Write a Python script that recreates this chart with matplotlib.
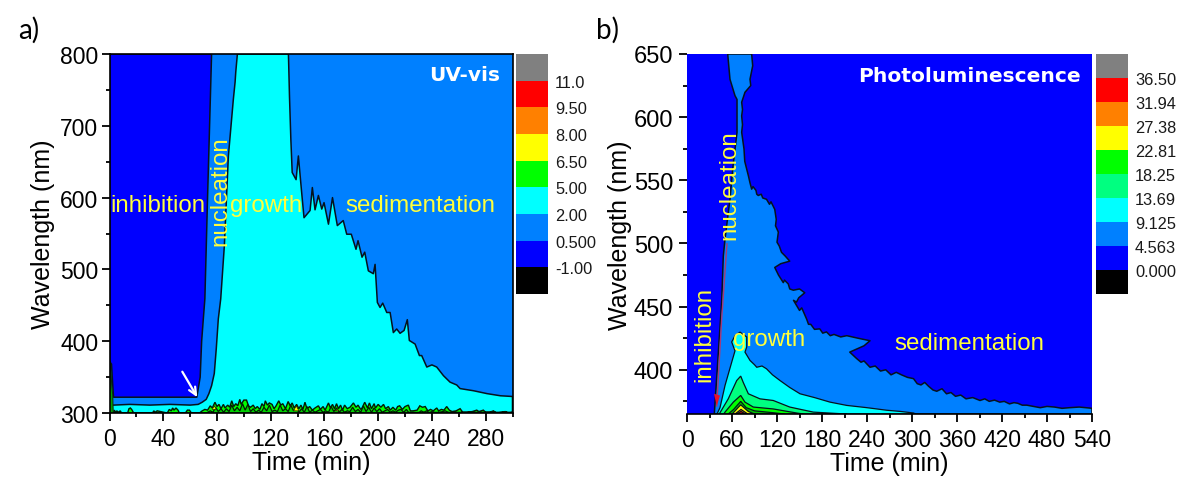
import numpy as np
import matplotlib
matplotlib.use("Agg")
import matplotlib.pyplot as plt
from matplotlib.colors import ListedColormap
from matplotlib.ticker import MultipleLocator

plt.rcParams['font.family'] = ['Liberation Sans', 'DejaVu Sans']

# ---------- panel a data (time in min, wavelength in nm) ----------
a_blue_t = [0, 76, 74.5, 73, 71, 69.8, 68.6, 67.5, 65, 40, 20, 3, 2.2, 1.5, 0]
a_blue_w = [800, 800, 700, 600, 459, 430, 400, 350, 322, 322, 322, 322, 345, 368, 372]

a_cyan_left_t = [0, 3, 15, 30, 45, 60, 66, 69, 72, 74, 76, 78, 79.5, 81, 82.8, 85.5, 88.5, 92.2, 93.5, 94, 95.2]
a_cyan_left_w = [311, 311, 312, 311, 312, 311, 312, 315, 319, 327, 338, 355, 390, 431, 459, 533, 658, 737, 761, 775, 800]
a_cyan_right_t = [133.2, 134, 135, 136, 138.9, 140.6, 141.8, 143, 144.8, 149.3, 151, 153, 155.5, 158, 159.7, 163, 166,
                  169.6, 174, 176.6, 180, 183.5, 185, 188, 190, 192.7, 196.4, 197.7, 199.4, 201.4, 203.4, 206.4, 208.9,
                  211.3, 213.8, 216.3, 219.3, 221.7, 223.2, 227.5, 230.7, 232.4, 236.2, 240, 243.6, 248.6, 253.5,
                  258.5, 261, 271, 281, 291, 300]
a_cyan_right_w = [800, 740, 681, 635, 625, 658, 633, 608, 572, 582, 614, 583, 603, 584, 593, 563, 600,
                  561, 568, 549, 549, 528, 540, 517, 524, 498, 494, 507, 454, 447, 453, 440, 440,
                  412, 417, 411, 415, 430, 401, 396, 380, 380, 364, 367, 364, 352, 343,
                  339, 334, 331, 327, 324, 323]

a_green_t = [0, 2.8, 3.6, 4.5, 5.5, 6.5, 8, 9, 13.5, 14.5, 15.5, 16.5, 18, 32, 33, 34, 35.5, 43, 44.5, 46, 47, 48, 49.5, 51, 52,
             56.5, 58, 59.5, 61, 67, 69, 71, 73, 75, 76.5, 78.5, 80, 81.5, 83, 84.8, 86, 88, 89.5, 91, 92.5, 94, 95.5, 97, 98,
             100, 102, 103.5, 105, 107, 108.5, 110, 112, 113.5, 115, 116, 117.5, 119, 121, 122.5, 124, 126, 127.5, 129, 131,
             133, 134.5, 136, 137.5, 139.3, 141, 142.5, 144, 145.5, 147, 149, 151, 153, 155.5, 157, 159, 160.5, 163, 164.5,
             166, 167.5, 169, 170.5, 172, 173.5, 175, 177, 179, 181.6, 183.5, 185, 187, 188, 190, 192, 193.5, 195, 197, 198,
             200, 202, 204, 205.5, 207.6, 209, 211, 213, 214.5, 216, 218, 220, 222.5, 224, 226, 229, 231, 233, 235, 237, 239,
             241, 243.6, 245, 247, 249, 251, 253, 255, 258, 261, 263, 266, 270, 273.4, 275, 278.3, 280, 283, 285.8, 288,
             292, 294.5, 297, 300]
a_green_w = [300, 300, 304, 301, 303, 301, 303, 300, 300, 306, 307, 305, 300, 300, 303, 301, 303, 300, 305, 303, 307, 304, 307, 304, 300,
             300, 304, 304, 300, 300, 303, 305, 304, 310, 307, 315, 309, 312, 306, 312, 307, 311, 308, 317, 309, 313, 310, 319, 312,
             318, 318, 310, 308, 311, 306, 309, 305, 313, 309, 317, 311, 314, 312, 306, 310, 317, 311, 313, 306,
             316, 310, 314, 307, 312, 306, 311, 305, 315, 306, 309, 304, 307, 310, 305, 309, 304, 314, 307,
             312, 306, 313, 306, 311, 304, 311, 306, 308, 314, 308, 311, 305, 307, 315, 307, 314, 306, 313, 307,
             312, 308, 312, 306, 309, 304, 308, 304, 309, 310, 305, 309, 311, 303, 303, 304, 310, 308, 309, 303, 305,
             303, 307, 303, 305, 304, 309, 304, 302, 303, 306, 301, 301, 302, 304, 302, 304, 301, 301, 303, 300,
             301, 302, 300, 301]
# inner (second) contour of the noisy band near the baseline
a_inner_t = [72, 75, 77, 79, 81, 83, 85, 87, 89, 91, 93, 95, 97, 99, 101, 103, 105, 107, 109, 111, 113, 115, 117, 119, 121, 123, 125, 127,
             129, 131, 133, 135, 137, 139, 141, 143, 145, 147, 149, 151, 153, 155, 157, 159, 161, 163, 165, 167, 169, 171, 173, 175, 177,
             179, 181, 183, 185, 187, 189, 191, 193, 195, 197, 199, 201, 203, 205, 207, 209, 211, 213, 215, 217, 219, 221, 223, 225, 230,
             232, 234, 236, 238, 240, 243, 246, 250, 253]
a_inner_w = [300, 303, 301, 308, 302, 306, 301, 306, 302, 311, 303, 308, 303, 313, 304, 312, 302, 306, 301, 304, 301, 308, 303, 311, 302, 304, 302, 311,
             303, 306, 302, 311, 303, 307, 301, 306, 301, 309, 301, 304, 301, 303, 305, 301, 303, 301, 309, 302, 307, 301, 305, 301, 303,
             302, 308, 302, 305, 301, 310, 302, 308, 301, 307, 302, 306, 301, 303, 305, 301, 303, 301, 304, 305, 301, 305, 300, 300, 300,
             303, 301, 303, 300, 302, 300, 301, 303, 300]
a_yellow_spots_t = [[76.5, 78, 79.5], [137, 139, 141], [168, 169.5, 171]]
a_yellow_spots_w = [[305, 310, 305], [303, 310, 303], [303, 305, 303]]
a_spike_t = [0, 0.4, 0.9, 1.6, 2.4, 2.8]
a_spike_w = [300, 372, 368, 340, 325, 300]

a_arrow_t = [54.2, 65.4]
a_arrow_w = [357.5, 321.9]

# ---------- panel b data ----------
b_azure_left_t = [36.4, 46.2, 48.4, 50.7, 57.3, 61.3, 66.7, 66.7, 64, 57.3, 54.3]
b_azure_left_w = [365, 453.8, 490, 503.6, 535, 561, 588, 614, 617, 630, 650]
b_azure_right_t = [86.2, 87.6, 84, 85, 77.3, 72.9, 74, 72.9, 74, 72.9, 76, 77, 81.8, 84, 86.2, 88, 92, 93, 95, 99, 101, 106, 110, 112, 117, 119, 118, 121.8, 120,
                   123, 126, 131, 137, 125, 117, 122, 128.4, 130, 135, 137, 141.8, 150, 157, 149, 146, 142, 150, 153, 159.6, 162, 165, 170, 177, 181, 186, 191, 196, 205, 213, 228, 244, 236,
                   217, 226, 232, 236, 244, 251, 258, 265, 272, 279, 286, 294, 302, 307, 312, 317, 322, 328, 333, 340, 346, 352, 358, 365, 372, 381, 390.7, 397, 403, 410, 417, 423, 430, 436, 441, 447, 453, 462, 471, 480, 490, 500, 510, 523, 537, 540]
b_azure_right_w = [650, 640.7, 630, 625, 619.7, 611.8, 606, 601, 594, 588, 574.8, 565, 553.7, 548, 543, 545, 542, 539, 538, 539, 536, 535, 531, 533, 527, 519, 514, 509, 501,
                   498, 493, 490, 486, 484, 481, 475, 469, 471, 468, 464, 463, 464, 461, 457, 453.6, 455, 447, 449, 440, 436, 436, 432, 432.4, 429, 430, 427, 428, 426, 427, 425, 423, 419,
                   414, 409, 406, 407, 402, 403, 399, 400, 396, 398, 396, 394, 393, 389, 388, 390, 387, 384, 383, 385, 381, 382, 379, 380, 377, 378, 375.7, 377, 375, 376, 374.4, 375, 373, 374, 373.5, 372, 372, 371, 370, 371, 370.5, 369.5, 370, 370.5, 369.7, 369.5]

b_cyan_t = [40, 44, 50.7, 59.6, 64, 59.6, 64, 70.7, 79.6, 79.6, 77.3, 84, 90, 93, 100, 106, 114, 124, 137, 150.7, 170, 190.7, 213, 240, 266, 285, 302, 305]
b_cyan_w = [365, 370, 387.6, 406, 415, 422, 427, 429.8, 426, 418, 414, 407.4, 404, 402, 403, 400.8, 396, 391.5, 386, 381, 378, 374.4, 371.8, 370, 368, 367, 365.8, 365]
b_spring_t = [43, 55, 66.3, 71.6, 75, 81.8, 97.3, 115, 137, 168.4, 200, 213]
b_spring_w = [365, 377, 391.5, 395, 390, 381, 377, 375.7, 370.5, 366.5, 365.4, 365]
b_green_t = [49, 50.7, 61.8, 71.6, 77.3, 88.4, 115, 146, 155]
b_green_w = [365, 366.5, 374.4, 379.7, 374.4, 370.5, 369, 365.8, 365]
b_green2_t = [55, 62, 71.6, 79, 90, 115, 130]
b_green2_w = [365, 368.5, 375, 370, 367.5, 366, 365]
b_yellow_t = [60, 61.8, 71.6, 81.8, 90]
b_yellow_w = [365, 366, 372.3, 367, 365]
b_orange_t = [64, 72, 81]
b_orange_w = [365, 368.6, 365]
b_red_t = [66, 72, 78]
b_red_w = [365, 367, 365]
b_red_wedge_t = [36, 44, 39.6]
b_red_wedge_w = [381, 379.6, 371.3]
b_red_line_t = [39.6, 46.2, 53.3]
b_red_line_w = [371.3, 440, 499.7]

# ---------- colour bars ----------
a_bar_colors = ['#000000', '#0000ff', '#0080ff', '#00ffff', '#00ff00', '#ffff00', '#ff8000', '#ff0000', '#808080']
a_bar_labels = ['-1.00', '0.500', '2.00', '5.00', '6.50', '8.00', '9.50', '11.0']
b_bar_colors = ['#000000', '#0000ff', '#0080ff', '#00ffff', '#00ff80', '#00ff00', '#ffff00', '#ff8000', '#ff0000', '#808080']
b_bar_labels = ['0.000', '4.563', '9.125', '13.69', '18.25', '22.81', '27.38', '31.94', '36.50']

W, H = 1200, 489
fig = plt.figure(figsize=(W / 100, H / 100), dpi=100)


def box(x0, y0, x1, y1):
    return [x0 / W, 1 - y1 / H, (x1 - x0) / W, (y1 - y0) / H]


BLUE, AZURE, CYAN = '#0000ff', '#0080ff', '#00ffff'
TXT = '#ffff3c'
EDGE = dict(edgecolor='#06121e', linewidth=1.1, joinstyle='round')
TS = 17.4


def style(ax, xmaj, xmin, ymaj, ymin):
    ax.xaxis.set_major_locator(MultipleLocator(xmaj))
    ax.xaxis.set_minor_locator(MultipleLocator(xmin))
    ax.yaxis.set_major_locator(MultipleLocator(ymaj))
    ax.yaxis.set_minor_locator(MultipleLocator(ymin))
    ax.tick_params(which='major', length=5.5, width=1.3, labelsize=16.5)
    ax.tick_params(which='minor', length=3, width=1.3)
    ax.tick_params(axis='x', which='major', pad=4.5)
    ax.tick_params(axis='y', which='major', pad=2.5)
    for s in ax.spines.values():
        s.set_linewidth(1.2)
        s.set_zorder(10)
    ax.set_axisbelow(False)


def bar(rect, colors, labels):
    cax = fig.add_axes(box(*rect))
    n = len(colors)
    cax.pcolormesh([0, 1], np.arange(n + 1), np.arange(n).reshape(-1, 1), cmap=ListedColormap(colors), vmin=0, vmax=n - 1)
    cax.set_xticks([])
    cax.yaxis.tick_right()
    cax.set_yticks(np.arange(1, n))
    cax.set_yticklabels(labels, fontsize=11.8, color='#1a1a1a')
    cax.tick_params(length=0, pad=5)
    for s in cax.spines.values():
        s.set_visible(False)


# ---------- panel a ----------
ax = fig.add_axes(box(109.5, 55, 512.5, 414))
ax.set_facecolor(AZURE)
ax.set_xlim(0, 300)
ax.set_ylim(300, 800)
ax.fill(a_blue_t, a_blue_w, facecolor=BLUE, zorder=2, **EDGE)
ax.fill([0] + a_cyan_left_t + a_cyan_right_t + [300], [300] + a_cyan_left_w + a_cyan_right_w + [300],
        facecolor=CYAN, zorder=3, **EDGE)
ax.fill(a_green_t, a_green_w, facecolor='#00ff00', zorder=4, edgecolor='#041a04', linewidth=1.0)
ax.fill(a_inner_t, a_inner_w, facecolor='#00d000', zorder=4.5, edgecolor='#041a04', linewidth=0.9)
for tt, ww in zip(a_yellow_spots_t, a_yellow_spots_w):
    ax.fill(tt, ww, facecolor='#ffff00', zorder=5, edgecolor='#202000', linewidth=0.5)
ax.fill(a_spike_t, a_spike_w, facecolor='#00a000', zorder=5, edgecolor='#0a2a0a', linewidth=0.7)
ax.annotate('', xy=(a_arrow_t[1], a_arrow_w[1]), xytext=(a_arrow_t[0], a_arrow_w[0]), zorder=6,
            arrowprops=dict(arrowstyle='->,head_length=0.55,head_width=0.25', color='white', lw=1.6,
                            shrinkA=0, shrinkB=0))
style(ax, 40, 20, 100, 50)
ax.set_xlabel('Time (min)', fontsize=18, labelpad=0)
ax.set_ylabel('Wavelength (nm)', fontsize=18, labelpad=4)
ax.text(1, 590, 'inhibition', color=TXT, fontsize=TS, va='center', zorder=7)
ax.text(82.3, 610.6, 'nucleation', color=TXT, fontsize=TS, rotation=90, ha='center', va='center', zorder=7)
ax.text(90, 590, 'growth', color=TXT, fontsize=TS, va='center', zorder=7)
ax.text(175.4, 590, 'sedimentation', color=TXT, fontsize=TS, va='center', zorder=7)
ax.text(291, 772, 'UV-vis', color='white', fontsize=14.5, fontweight='bold', family='DejaVu Sans',
        ha='right', va='center', zorder=7)
bar((516, 55, 548, 295), a_bar_colors, a_bar_labels)

# ---------- panel b ----------
bx = fig.add_axes(box(687, 55, 1092, 415))
bx.set_facecolor(BLUE)
bx.set_xlim(0, 540)
bx.set_ylim(365, 650)
bx.fill(b_azure_left_t + b_azure_right_t + [540, 36.4], b_azure_left_w + b_azure_right_w + [365, 365],
        facecolor=AZURE, zorder=2, **EDGE)
layers = [(b_cyan_t, b_cyan_w, CYAN), (b_spring_t, b_spring_w, '#00ff80'), (b_green_t, b_green_w, '#00ff00'),
          (b_green2_t, b_green2_w, '#00c000'), (b_yellow_t, b_yellow_w, '#ffff00'),
          (b_orange_t, b_orange_w, '#ff8000'), (b_red_t, b_red_w, '#ff0000')]
for i, (tt, ww, c) in enumerate(layers):
    bx.fill(tt, ww, facecolor=c, zorder=3 + i, edgecolor='#06121e', linewidth=0.9)
bx.plot(b_red_line_t, b_red_line_w, color='#a83a78', lw=1.0, zorder=11)
bx.fill(b_red_wedge_t, b_red_wedge_w, facecolor='#e8102a', zorder=11)
style(bx, 60, 30, 50, 25)
bx.tick_params(which='major', axis='y', labelsize=17, pad=4.5)
for side in ('top', 'right', 'left'):
    bx.spines[side].set_visible(False)
bx.set_xlabel('Time (min)', fontsize=18, labelpad=0)
bx.set_ylabel('Wavelength (nm)', fontsize=18, labelpad=1)
bx.text(22.7, 428.5, 'inhibition', color=TXT, fontsize=TS, rotation=90, ha='center', va='center', zorder=12)
bx.text(56, 547, 'nucleation', color=TXT, fontsize=TS, rotation=90, ha='center', va='center', zorder=12)
bx.text(61.3, 424.5, 'growth', color=TXT, fontsize=TS, va='center', zorder=12)
bx.text(277, 421.4, 'sedimentation', color=TXT, fontsize=TS, va='center', zorder=12)
bx.text(525, 632.6, 'Photoluminescence', color='white', fontsize=14.6, fontweight='bold', family='DejaVu Sans',
        ha='right', va='center', zorder=12)
bar((1096, 55, 1128, 295), b_bar_colors, b_bar_labels)

fig.text(18 / W, 1 - 30 / H, 'a)', fontsize=20, family='Lato', va='center')
fig.text(596 / W, 1 - 30 / H, 'b)', fontsize=20, family='Lato', va='center')

fig.savefig('out.png', dpi=100)
